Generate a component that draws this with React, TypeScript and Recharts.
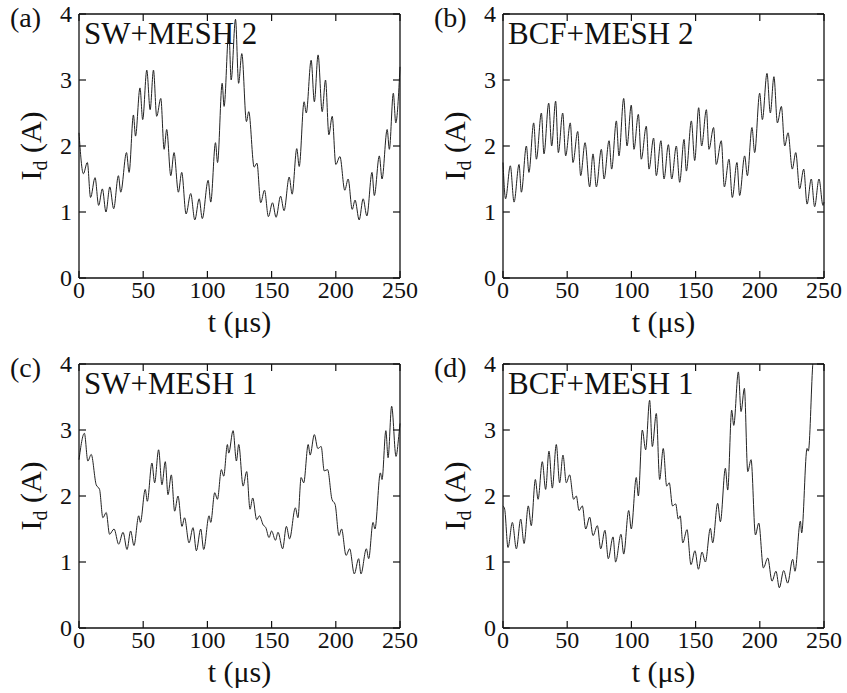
import { LineChart, Line, XAxis, YAxis } from "recharts";

// (a) SW+MESH 2
const T_A = [0, 3.4, 6.5, 9, 12.5, 15.3, 18.2, 21, 24, 27, 30.7, 32.5, 37, 39, 42.4, 44, 47.5, 49.6, 52.8, 55.4, 58, 60.5, 63.7, 66.3, 68.3, 71.5, 74, 77.4, 80, 83.4, 87, 90.2, 93.6, 96, 100.6, 102.6, 106.3, 107.9, 111.5, 113, 116.7, 118.5, 121.9, 124.3, 126.8, 130.4, 132.2, 136.4, 138.6, 141.5, 144.5, 147.5, 150.7, 153.5, 157, 159.7, 163.7, 166, 169.6, 171.5, 175.3, 177, 180.8, 183.3, 186.2, 189.4, 192, 194.6, 197.2, 200, 203.2, 207, 209.6, 212.8, 215, 218.2, 221.3, 224.2, 228.2, 230, 233.9, 236, 240, 241.7, 244.8, 246.7, 250];
const I_A = [2.2, 1.58, 1.75, 1.22, 1.52, 1.1, 1.35, 1.0, 1.38, 1.05, 1.55, 1.3, 1.9, 1.6, 2.47, 2.15, 2.88, 2.4, 3.15, 2.55, 3.15, 2.45, 2.72, 1.95, 2.25, 1.55, 1.9, 1.3, 1.6, 0.97, 1.28, 0.88, 1.2, 0.9, 1.48, 1.15, 2.05, 1.75, 2.95, 2.6, 3.75, 3.0, 3.92, 2.95, 3.4, 2.37, 2.52, 1.68, 1.74, 1.14, 1.33, 0.93, 1.14, 0.92, 1.24, 1.02, 1.53, 1.27, 1.96, 1.69, 2.67, 2.5, 3.3, 2.67, 3.38, 2.52, 3.0, 2.17, 2.45, 1.72, 1.84, 1.33, 1.5, 1.04, 1.18, 0.88, 1.2, 0.94, 1.6, 1.25, 1.85, 1.5, 2.25, 1.95, 2.8, 2.35, 3.2];

// (b) BCF+MESH 2
const T_B = [0, 2, 5.7, 8.6, 12.5, 14.3, 18.2, 20.2, 23.9, 26, 29.9, 31.9, 35.6, 37.9, 41, 43.1, 46.5, 48.8, 52.4, 54.5, 58.2, 60.5, 63.9, 67.5, 70.1, 72.7, 76.6, 78.7, 82.6, 84.6, 88.3, 90.3, 94, 96.6, 99.9, 102, 105.4, 107.7, 111.6, 113.7, 117.3, 119.4, 123, 125.4, 128.8, 131.4, 135, 137.6, 141, 142.8, 146.7, 149.3, 152.4, 154.7, 158.4, 160.4, 164, 166.1, 170, 172.4, 176, 178.6, 182.2, 184.3, 188.2, 190.3, 193.9, 196, 199.9, 202, 205.6, 208.2, 211, 213.7, 216.8, 219.4, 222, 225.3, 228, 231, 234.2, 236.8, 240.1, 242.7, 246.1, 249.2, 250];
const I_B = [1.75, 1.2, 1.7, 1.15, 1.72, 1.3, 2.0, 1.6, 2.35, 1.8, 2.5, 1.88, 2.65, 2.0, 2.68, 1.9, 2.5, 1.85, 2.35, 1.75, 2.22, 1.55, 2.05, 1.38, 1.88, 1.38, 1.95, 1.5, 2.08, 1.65, 2.38, 1.85, 2.72, 2.0, 2.62, 1.95, 2.48, 1.8, 2.3, 1.65, 2.12, 1.55, 2.08, 1.5, 2.02, 1.5, 2.0, 1.45, 2.1, 1.62, 2.38, 1.78, 2.58, 2.0, 2.55, 1.95, 2.28, 1.72, 2.08, 1.38, 1.8, 1.22, 1.75, 1.25, 1.85, 1.55, 2.28, 1.9, 2.8, 2.4, 3.1, 2.5, 3.05, 2.35, 2.6, 2.0, 2.2, 1.65, 1.9, 1.35, 1.65, 1.12, 1.5, 1.08, 1.5, 1.1, 1.15];

// (c) SW+MESH 1
const T_C = [0, 4.2, 6.9, 9.5, 13.4, 16, 18.6, 21.2, 23.8, 27.3, 30.9, 34.3, 37.4, 40.2, 42.8, 46.5, 47.8, 51.6, 53.2, 56.8, 58.9, 62, 64.6, 67.2, 69.3, 71.9, 74.5, 77.1, 80.2, 82.2, 85.7, 88.8, 91.4, 94.8, 97.1, 101.3, 102.6, 105.7, 107.8, 110.9, 112.7, 115.6, 116.6, 120, 122.6, 124.4, 127.8, 130.6, 133.2, 135.3, 138.4, 140.5, 143.5, 145.5, 148, 150, 153, 155, 158.6, 161.5, 164, 168.5, 170.5, 173, 175, 178.5, 180, 183.3, 186, 188.6, 191, 193.6, 197, 199.5, 202.5, 204.5, 208, 210.8, 214.4, 217.8, 219.6, 223.8, 225.6, 229, 230.5, 234.7, 236, 239, 240.7, 243.5, 246.9, 249, 250];
const I_C = [2.55, 2.95, 2.53, 2.63, 2.17, 2.1, 1.67, 1.75, 1.42, 1.5, 1.27, 1.45, 1.19, 1.47, 1.25, 1.7, 1.6, 2.1, 1.92, 2.5, 2.2, 2.7, 2.17, 2.52, 2.02, 2.32, 1.77, 2.0, 1.54, 1.67, 1.29, 1.52, 1.17, 1.5, 1.19, 1.7, 1.6, 2.05, 1.95, 2.4, 2.3, 2.78, 2.65, 2.99, 2.53, 2.78, 2.15, 2.37, 1.8, 1.97, 1.64, 1.7, 1.56, 1.52, 1.37, 1.47, 1.33, 1.45, 1.2, 1.54, 1.35, 1.82, 1.67, 2.28, 2.2, 2.78, 2.62, 2.93, 2.72, 2.75, 2.38, 2.4, 1.95, 1.87, 1.4, 1.5, 1.1, 1.2, 0.82, 1.05, 0.82, 1.2, 1.05, 1.6, 1.5, 2.35, 2.25, 2.99, 2.58, 3.36, 2.6, 2.9, 3.1];

// (d) BCF+MESH 1
const T_D = [0, 1.3, 3.9, 7.3, 10.4, 13.8, 16.4, 19.7, 22, 25.2, 27.3, 30.6, 33.2, 35.8, 38.4, 41.5, 44.1, 46.7, 49.3, 51.9, 55, 57.1, 59.2, 61.8, 64.4, 67.5, 70.1, 73.5, 76.1, 79.4, 82, 85.7, 87.7, 91.9, 94, 97.9, 99.9, 103.8, 105.4, 108.5, 111.1, 114.2, 116.3, 119.4, 122, 124.8, 127.5, 129.5, 132, 134.5, 136.5, 138, 140, 143.3, 146.4, 149.5, 152.2, 155, 157.6, 161.5, 163.3, 167.2, 169.3, 173.2, 175, 178.1, 179.7, 183.3, 185.4, 188, 190.6, 193.2, 196.6, 199.2, 202.8, 206.2, 209.5, 212.6, 215.2, 218.6, 221.7, 225.6, 227.4, 231.6, 232.6, 236.8, 237.8, 241.2, 244, 250];
const I_D = [1.85, 1.8, 1.22, 1.6, 1.2, 1.65, 1.28, 1.85, 1.55, 2.25, 1.95, 2.52, 2.1, 2.68, 2.12, 2.78, 2.2, 2.62, 2.2, 2.32, 1.95, 2.0, 1.78, 1.85, 1.5, 1.68, 1.4, 1.55, 1.2, 1.48, 1.05, 1.38, 1.0, 1.42, 1.12, 1.78, 1.5, 2.28, 2.0, 3.0, 2.7, 3.45, 2.75, 3.25, 2.25, 2.72, 2.15, 2.2, 1.85, 1.88, 1.65, 1.7, 1.29, 1.49, 0.96, 1.17, 0.89, 1.15, 1.0, 1.51, 1.29, 1.89, 1.61, 2.42, 2.09, 3.3, 3.07, 3.88, 3.28, 3.63, 2.37, 2.55, 1.41, 1.59, 0.91, 1.06, 0.71, 0.86, 0.61, 0.87, 0.68, 1.04, 0.86, 1.62, 1.44, 2.72, 2.68, 3.98, 4.6, 5.8];

const X_TICKS = [0, 50, 100, 150, 200, 250];
const Y_TICKS = [0, 1, 2, 3, 4];

const W = 420;
const H = 345;
const FONT = "'Liberation Serif', 'Times New Roman', serif";
const INK = "#111";

function BottomTick({ x, y, payload }: any) {
  return (
    <g>
      <line x1={x} y1={y} x2={x} y2={y - 7} stroke={INK} strokeWidth={1.2} />
      <text x={x} y={y + 20} textAnchor="middle" fontSize={24} fontFamily={FONT} fill={INK}>
        {payload.value}
      </text>
    </g>
  );
}

function TopTick({ x, y }: any) {
  return <line x1={x} y1={y} x2={x} y2={y + 7} stroke={INK} strokeWidth={1.2} />;
}

function LeftTick({ x, y, payload }: any) {
  return (
    <g>
      <line x1={x} y1={y} x2={x + 7} y2={y} stroke={INK} strokeWidth={1.2} />
      <text x={x - 7} y={y + 8} textAnchor="end" fontSize={24} fontFamily={FONT} fill={INK}>
        {payload.value}
      </text>
    </g>
  );
}

function RightTick({ x, y }: any) {
  return <line x1={x} y1={y} x2={x - 7} y2={y} stroke={INK} strokeWidth={1.2} />;
}

const frame = { stroke: INK, strokeWidth: 1.3 };

function Panel({ tag, note, t, v, left, top }: { tag: string; note: string; t: number[]; v: number[]; left: number; top: number }) {
  const data = t.map((tt, k) => ({ t: tt, i: v[k] }));
  return (
    <div style={{ position: "absolute", left, top, width: W, height: H }}>
      <LineChart width={W} height={H} data={data} margin={{ top: 13, right: 19, bottom: 0, left: 0 }}>
        <XAxis xAxisId="b" dataKey="t" type="number" domain={[0, 250]} ticks={X_TICKS} interval={0}
          height={67} tickSize={0} tickMargin={0} tickLine={false} axisLine={frame} tick={BottomTick} />
        <XAxis xAxisId="t" orientation="top" dataKey="t" type="number" domain={[0, 250]} ticks={X_TICKS} interval={0}
          height={1} tickSize={0} tickMargin={0} tickLine={false} axisLine={frame} tick={TopTick} />
        <YAxis yAxisId="l" type="number" domain={[0, 4]} ticks={Y_TICKS} interval={0} allowDataOverflow
          width={79} tickSize={0} tickMargin={0} tickLine={false} axisLine={frame} tick={LeftTick} />
        <YAxis yAxisId="r" orientation="right" type="number" domain={[0, 4]} ticks={Y_TICKS} interval={0} allowDataOverflow
          width={1} tickSize={0} tickMargin={0} tickLine={false} axisLine={frame} tick={RightTick} />
        <Line xAxisId="b" yAxisId="l" dataKey="i" type="monotone" stroke="#222" strokeWidth={1}
          dot={false} isAnimationActive={false} />
      </LineChart>
      <svg width={W} height={H} style={{ position: "absolute", left: 0, top: 0, pointerEvents: "none" }}>
        <g fontFamily={FONT} fill={INK}>
          <text x={10} y={27} fontSize={28}>{tag}</text>
          <text x={84} y={44} fontSize={31}>{note}</text>
          <text x={239.5} y={332} fontSize={30} textAnchor="middle">t (μs)</text>
          <text transform="translate(41,146) rotate(-90)" fontSize={30} textAnchor="middle">
            I<tspan fontSize={20} dy={6}>d</tspan><tspan dy={-6}> (A)</tspan>
          </text>
        </g>
      </svg>
    </div>
  );
}

export default function App() {
  return (
    <div style={{ position: "fixed", left: 0, top: 0, width: 847, height: 693, background: "#fff" }}>
      <Panel tag="(a)" note="SW+MESH 2" t={T_A} v={I_A} left={0} top={0} />
      <Panel tag="(b)" note="BCF+MESH 2" t={T_B} v={I_B} left={424} top={0} />
      <Panel tag="(c)" note="SW+MESH 1" t={T_C} v={I_C} left={0} top={350} />
      <Panel tag="(d)" note="BCF+MESH 1" t={T_D} v={I_D} left={424} top={350} />
    </div>
  );
}
